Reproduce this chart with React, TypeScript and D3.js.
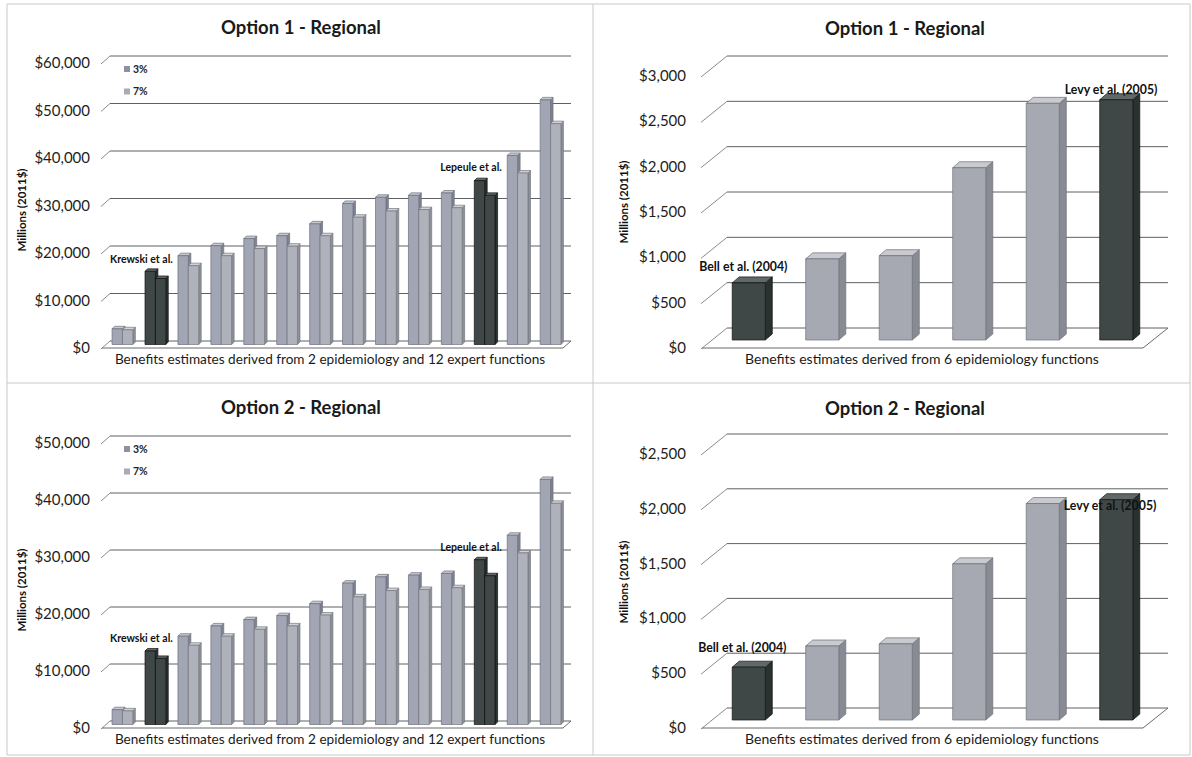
import React from "react";
import * as d3 from "d3";

// 14 benefit functions: 2 epidemiology studies and 12 expert functions
const expertCategories = [
  "Expert A", "Krewski et al.", "Expert B", "Expert C", "Expert D", "Expert E", "Expert F",
  "Expert G", "Expert H", "Expert I", "Expert J", "Lepeule et al.", "Expert K", "Expert L",
];
const expertHighlights = ["Krewski et al.", "Lepeule et al."];
const seriesNames = ["3%", "7%"];

const option1Rate3 = [3300, 15400, 18700, 20800, 22300, 22900, 25400, 29700, 31000, 31400, 31900, 34500, 39800, 51500];
const option1Rate7 = [3100, 13900, 16600, 18700, 20200, 20700, 22900, 26800, 28100, 28400, 28800, 31400, 36100, 46500];
const option2Rate3 = [2600, 12900, 15500, 17300, 18400, 19100, 21200, 24800, 25900, 26200, 26500, 28900, 33200, 43000];
const option2Rate7 = [2400, 11600, 13900, 15500, 16700, 17300, 19200, 22400, 23500, 23700, 24000, 26100, 30100, 38800];
const option1Ticks = [0, 10000, 20000, 30000, 40000, 50000, 60000];
const option2Ticks = [0, 10000, 20000, 30000, 40000, 50000];

// 6 epidemiology functions
const epiCategories = [
  "Bell et al. (2004)", "Epidemiology 2", "Epidemiology 3", "Epidemiology 4", "Epidemiology 5", "Levy et al. (2005)",
];
const epiHighlights = ["Bell et al. (2004)", "Levy et al. (2005)"];
const epiOption1 = [630, 895, 930, 1900, 2610, 2650];
const epiOption2 = [482, 675, 695, 1425, 1975, 2010];
const epiOption1Ticks = [0, 500, 1000, 1500, 2000, 2500, 3000];
const epiOption2Ticks = [0, 500, 1000, 1500, 2000, 2500];

const FONT = "Lato, 'Open Sans', 'DejaVu Sans', sans-serif";
const money = d3.format("$,");

type Shade = { front: string; top: string; side: string; stroke: string };
const SHADE_3: Shade = { front: "#a2a6b4", top: "#c6c9d2", side: "#7f8491", stroke: "#6c707c" };
const SHADE_7: Shade = { front: "#afb2ba", top: "#d0d2d7", side: "#8d9098", stroke: "#757880" };
const SHADE_DARK: Shade = { front: "#3f4847", top: "#606968", side: "#2a3131", stroke: "#111" };
const SHADE_EPI: Shade = { front: "#a6a9b1", top: "#c8cacf", side: "#888b93", stroke: "#6d7078" };

function Box3D({ x, w, yTop, yBase, ddx, ddy, shade }: {
  x: number; w: number; yTop: number; yBase: number; ddx: number; ddy: number; shade: Shade;
}) {
  const side = [[x + w, yTop], [x + w + ddx, yTop + ddy], [x + w + ddx, yBase + ddy], [x + w, yBase]];
  const top = [[x, yTop], [x + ddx, yTop + ddy], [x + w + ddx, yTop + ddy], [x + w, yTop]];
  const pts = (p: number[][]) => p.map((q) => q.join(",")).join(" ");
  return (
    <g strokeWidth={0.7} stroke={shade.stroke} strokeLinejoin="round">
      <polygon points={pts(side)} fill={shade.side} />
      <polygon points={pts(top)} fill={shade.top} />
      <rect x={x} y={yTop} width={w} height={yBase - yTop} fill={shade.front} />
    </g>
  );
}

function Walls({ y, ticks, x0, x1, dx, dy }: {
  y: d3.ScaleLinear<number, number>; ticks: number[]; x0: number; x1: number; dx: number; dy: number;
}) {
  const y0 = y(0);
  return (
    <g fill="none">
      {ticks.map((t) => (
        <g key={t}>
          <line x1={x0 + dx} x2={x1 + dx} y1={y(t) + dy} y2={y(t) + dy} stroke="#5f6062" strokeWidth={1} />
          <line x1={x0 - 1} y1={y(t) + 1} x2={x0 + dx} y2={y(t) + dy} stroke="#8a8b8d" strokeWidth={1} />
        </g>
      ))}
      <line x1={x0} x2={x1} y1={y0} y2={y0} stroke="#6a6b6d" strokeWidth={1} />
      <line x1={x1} y1={y0} x2={x1 + dx} y2={y0 + dy} stroke="#6a6b6d" strokeWidth={1} />
    </g>
  );
}

type Note = { name: string; dx: number; dy: number };

function ClusterPanel({ title, ty, rate3, rate7, ticks, notes }: {
  title: string; ty: number; rate3: number[]; rate7: number[]; ticks: number[]; notes: Note[];
}) {
  const X0 = 102, X1 = 563, DX = 8, DY = -7;
  const y = d3.scaleLinear().domain([0, ticks[ticks.length - 1]]).range([348, 63]);
  const x = d3.scaleBand().domain(expertCategories).range([X0, X1]).paddingInner(0.37).paddingOuter(0.185);
  const sub = d3.scaleBand().domain(seriesNames).range([0, x.bandwidth()]);
  const bx = DX * 0.5, by = DY * 0.5;
  const base = y(0) + by;
  return (
    <g transform={`translate(0,${ty})`} fontFamily={FONT}>
      <text x={301} y={34} textAnchor="middle" fontSize={18.5} fontWeight={700} fill="#1a1a1a">{title}</text>
      <Walls y={y} ticks={ticks} x0={X0} x1={X1} dx={DX} dy={DY} />
      {ticks.map((t) => (
        <text key={t} x={90} y={y(t) + 5} textAnchor="end" fontSize={15} fill="#1e1e1e">{money(t)}</text>
      ))}
      {expertCategories.map((c, i) => {
        const hi = expertHighlights.includes(c);
        const vals = [rate3[i], rate7[i]];
        return (
          <g key={c}>
            {seriesNames.map((s, j) => (
              <Box3D key={s} x={(x(c) as number) + (sub(s) as number) + bx} w={sub.bandwidth()}
                yTop={y(vals[j]) + by} yBase={base} ddx={2.5} ddy={-2.5}
                shade={hi ? SHADE_DARK : j === 0 ? SHADE_3 : SHADE_7} />
            ))}
          </g>
        );
      })}
      {notes.map((n) => {
        const i = expertCategories.indexOf(n.name);
        return (
          <text key={n.name} x={(x(n.name) as number) + bx + n.dx} y={y(rate3[i]) + by + n.dy}
            fontSize={10.5} fontWeight={700} fill="#111">{n.name}</text>
        );
      })}
      {seriesNames.map((s, j) => (
        <g key={s} transform={`translate(124,${y(ticks[ticks.length - 1]) + 6 + j * 22.5})`}>
          <rect x={0} y={-3} width={6} height={6} fill={j === 0 ? "#8d92a3" : "#a9acb4"} />
          <text x={9} y={3.5} fontSize={10.5} fontWeight={700} fill="#222">{s}</text>
        </g>
      ))}
      <text transform="translate(26,210) rotate(-90)" textAnchor="middle" fontSize={11.5} fontWeight={700} fill="#111">Millions (2011$)</text>
      <text x={330} y={364} textAnchor="middle" fontSize={13.6} fill="#1a1a1a">
        Benefits estimates derived from 2 epidemiology and 12 expert functions
      </text>
    </g>
  );
}

function EpiPanel({ title, ty, values, ticks, yTop, notes }: {
  title: string; ty: number; values: number[]; ticks: number[]; yTop: number; notes: Note[];
}) {
  const X0 = 702, X1 = 1143, DX = 25, DY = -20;
  const y = d3.scaleLinear().domain([0, ticks[ticks.length - 1]]).range([348, yTop]);
  const x = d3.scaleBand().domain(epiCategories).range([X0, X1]).paddingInner(0.55).paddingOuter(0.275);
  const bx = DX * 0.4, by = DY * 0.4;
  const base = y(0) + by;
  return (
    <g transform={`translate(0,${ty})`} fontFamily={FONT}>
      <text x={905} y={35} textAnchor="middle" fontSize={18.5} fontWeight={700} fill="#1a1a1a">{title}</text>
      <Walls y={y} ticks={ticks} x0={X0} x1={X1} dx={DX} dy={DY} />
      {ticks.map((t) => (
        <text key={t} x={686} y={y(t) + 5} textAnchor="end" fontSize={15} fill="#1e1e1e">{money(t)}</text>
      ))}
      {epiCategories.map((c, i) => (
        <Box3D key={c} x={(x(c) as number) + bx} w={x.bandwidth()} yTop={y(values[i]) + by} yBase={base}
          ddx={7} ddy={-6} shade={epiHighlights.includes(c) ? SHADE_DARK : SHADE_EPI} />
      ))}
      {notes.map((n) => {
        const i = epiCategories.indexOf(n.name);
        return (
          <text key={n.name} x={(x(n.name) as number) + bx + n.dx} y={y(values[i]) + by + n.dy}
            fontSize={12.3} fontWeight={700} fill="#111">{n.name}</text>
        );
      })}
      <text transform="translate(628,202) rotate(-90)" textAnchor="middle" fontSize={11.5} fontWeight={700} fill="#111">Millions (2011$)</text>
      <text x={922} y={364} textAnchor="middle" fontSize={14} fill="#1a1a1a">
        Benefits estimates derived from 6 epidemiology functions
      </text>
    </g>
  );
}

export default function App() {
  return (
    <svg width={1192} height={757} style={{ position: "absolute", left: 0, top: 0, background: "#fff" }}>
      <rect width={1192} height={757} fill="#fff" />
      <g stroke="#c9c9c9" strokeWidth={1}>
        <line x1={7} x2={1190} y1={4} y2={4} />
        <line x1={7} x2={1190} y1={383} y2={383} />
        <line x1={7} x2={1190} y1={755} y2={755} />
        <line x1={7} x2={7} y1={4} y2={755} />
        <line x1={593} x2={593} y1={4} y2={755} />
        <line x1={1190} x2={1190} y1={4} y2={755} />
      </g>
      <ClusterPanel title="Option 1 - Regional" ty={0} rate3={option1Rate3} rate7={option1Rate7} ticks={option1Ticks}
        notes={[{ name: "Krewski et al.", dx: -35, dy: -8 }, { name: "Lepeule et al.", dx: -34, dy: -10 }]} />
      <ClusterPanel title="Option 2 - Regional" ty={380} rate3={option2Rate3} rate7={option2Rate7} ticks={option2Ticks}
        notes={[{ name: "Krewski et al.", dx: -35, dy: -9 }, { name: "Lepeule et al.", dx: -34, dy: -9 }]} />
      <EpiPanel title="Option 1 - Regional" ty={0} values={epiOption1} ticks={epiOption1Ticks} yTop={76}
        notes={[{ name: "Bell et al. (2004)", dx: -33, dy: -12 }, { name: "Levy et al. (2005)", dx: -35, dy: -6 }]} />
      <EpiPanel title="Option 2 - Regional" ty={380} values={epiOption2} ticks={epiOption2Ticks} yTop={74}
        notes={[{ name: "Bell et al. (2004)", dx: -34, dy: -15 }, { name: "Levy et al. (2005)", dx: -36, dy: 10 }]} />
    </svg>
  );
}
